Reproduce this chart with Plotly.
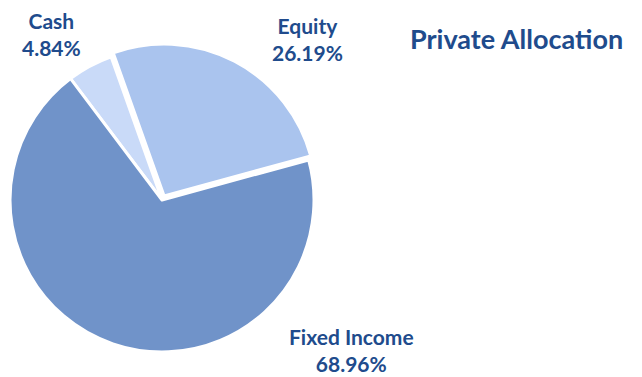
import plotly.graph_objects as go

labels = ["Cash", "Equity", "Fixed Income"]
values = [4.84, 26.19, 68.96]
colors = ["#C9DAF8", "#AAC4EE", "#7093C9"]
pulls = [0.0, 0.03, 0.0]

TEXT = "#204B8C"
FONT = "Lato"
W, H = 642, 377

fig = go.Figure(go.Pie(
    labels=labels,
    values=values,
    sort=False,
    direction="clockwise",
    rotation=-37,
    pull=pulls,
    marker=dict(colors=colors, line=dict(color="white", width=3)),
    textinfo="none",
    hoverinfo="label+percent",
    showlegend=False,
    domain=dict(x=[0.0085, 0.4962], y=[0.0542, 0.8848]),
))

# slice captions placed beside each slice
label_pos = [(51, 34), (307, 39), (351, 350)]
for (px, py), name, v in zip(label_pos, labels, values):
    fig.add_annotation(
        x=px / W, y=1 - py / H, xref="paper", yref="paper",
        xanchor="center", yanchor="middle",
        text=f"<b>{name}<br>{v:.2f}%</b>", showarrow=False,
        font=dict(family=FONT, size=21, color=TEXT), align="center",
    )

fig.add_annotation(
    x=516 / W, y=1 - 38 / H, xref="paper", yref="paper",
    xanchor="center", yanchor="middle",
    text="<b>Private Allocation</b>", showarrow=False,
    font=dict(family=FONT, size=27, color=TEXT),
)

fig.update_layout(
    width=W, height=H,
    margin=dict(l=0, r=0, t=0, b=0),
    paper_bgcolor="white", plot_bgcolor="white",
)

fig.write_html("out.html")
